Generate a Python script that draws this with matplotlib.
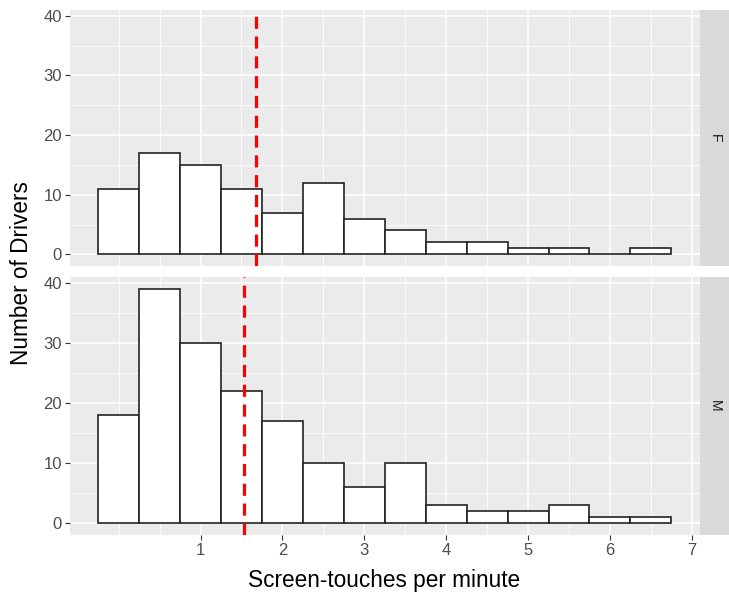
import matplotlib
matplotlib.use("Agg")
import matplotlib.pyplot as plt
import numpy as np

plt.rcParams["font.family"] = ["Liberation Sans", "DejaVu Sans"]

bin_centers = [0, 0.5, 1, 1.5, 2, 2.5, 3, 3.5, 4, 4.5, 5, 5.5, 6, 6.5]
counts_F = [11, 17, 15, 11, 7, 12, 6, 4, 2, 2, 1, 1, 0, 1]
counts_M = [18, 39, 30, 22, 17, 10, 6, 10, 3, 2, 2, 3, 1, 1]
mean_F = 1.68
mean_M = 1.53
facets = ["F", "M"]
x_ticks = [1, 2, 3, 4, 5, 6, 7]
y_ticks = [0, 10, 20, 30, 40]
bin_width = 0.5

W, H = 729, 599
fig = plt.figure(figsize=(W / 100, H / 100), dpi=100)

def ax_rect(x0, y0, x1, y1):
    return [x0 / W, 1 - y1 / H, (x1 - x0) / W, (y1 - y0) / H]

panels = [(10, 266), (277, 535)]
left, right = 69.5, 700
strip_right = 729

data = [counts_F, counts_M]
means = [mean_F, mean_M]

for i, (top, bot) in enumerate(panels):
    ax = fig.add_axes(ax_rect(left, top, right, bot))
    ax.set_facecolor("#EBEBEB")
    ax.set_xlim(-0.6, 7.1)
    ax.set_ylim(-1.95, 40.95)
    ax.set_xticks(x_ticks)
    ax.set_xticks([0, 0.5, 1.5, 2.5, 3.5, 4.5, 5.5, 6.5], minor=True)
    ax.set_yticks(y_ticks)
    ax.set_yticks([5, 15, 25, 35], minor=True)
    ax.grid(True, which="major", color="white", linewidth=1.1)
    ax.grid(True, which="minor", color="white", linewidth=0.6)
    ax.set_axisbelow(True)
    for s in ax.spines.values():
        s.set_visible(False)
    ax.tick_params(which="minor", length=0)
    ax.tick_params(which="major", length=3.5, width=0.8, color="#333333",
                   labelcolor="#4D4D4D", labelsize=12, pad=2)
    ax.bar(bin_centers, data[i], width=bin_width, color="white",
           edgecolor="#222222", linewidth=1.2, zorder=2)
    ax.axvline(means[i], color="#FF0000", linewidth=2.3,
               linestyle=(0, (3.8, 2.4)), zorder=3)
    if i == 0:
        ax.set_xticklabels([])
        ax.tick_params(axis="x", which="major", length=0)
    # strip
    sax = fig.add_axes(ax_rect(right, top, strip_right, bot))
    sax.set_facecolor("#D9D9D9")
    sax.set_xticks([])
    sax.set_yticks([])
    for s in sax.spines.values():
        s.set_visible(False)
    sax.text(0.5, 0.5, facets[i], rotation=-90, ha="center", va="center",
             fontsize=10, color="#1A1A1A", transform=sax.transAxes)

fig.text(384 / W, 1 - 581 / H, "Screen-touches per minute", ha="center",
         va="center", fontsize=16.3, color="black")
fig.text(22 / W, 1 - 273 / H, "Number of Drivers", ha="center", va="center",
         rotation=90, fontsize=16.3, color="black")

fig.savefig("out.png", dpi=100, facecolor="white")
